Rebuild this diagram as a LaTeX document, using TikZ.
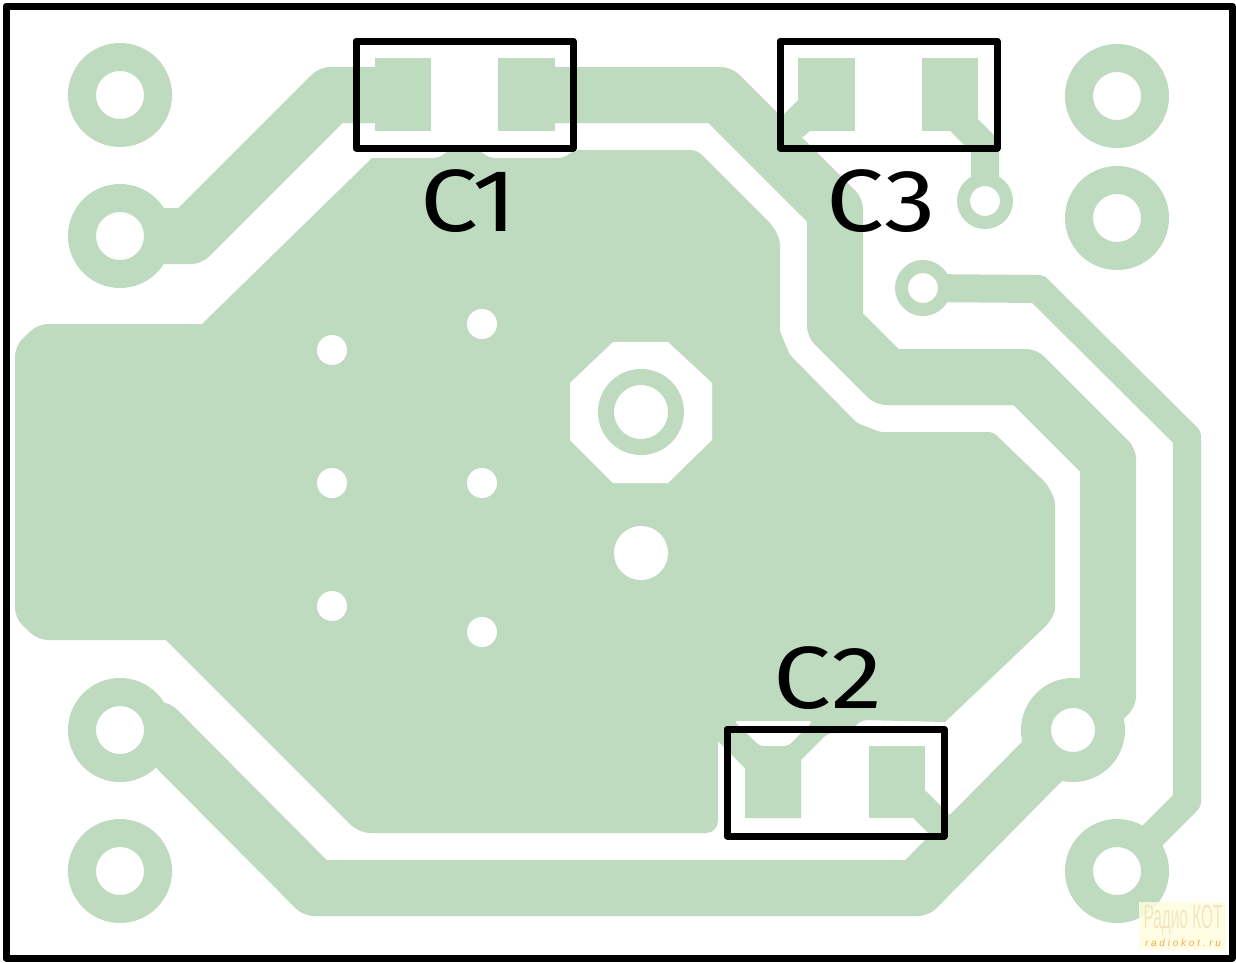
\documentclass[tikz,border=0pt]{standalone}
\usepackage{fontspec}
\setmainfont{Fira Sans}
\newfontfamily\wmfont{Liberation Sans}
\usepackage{xcolor}
\usetikzlibrary{backgrounds}
\definecolor{copper}{HTML}{BEDBBF}

\begin{document}
\begin{tikzpicture}[
    x=1pt, y=-1pt,
    padbig/.style={circle, draw=copper, fill=white, line width=28pt, minimum size=76pt, inner sep=0pt, outer sep=0pt},
    padsmall/.style={circle, draw=copper, fill=white, line width=13pt, minimum size=43pt, inner sep=0pt, outer sep=0pt},
    hole/.style={circle, fill=white, minimum size=30pt, inner sep=0pt, outer sep=0pt},
    smd/.style={fill=copper},
    wide/.style={draw=copper, line width=56pt, line join=round, line cap=round},
    thin/.style={draw=copper, line width=28pt, line join=round, line cap=round},
    outline/.style={draw=black, line width=7pt, line join=round},
    refdes/.style={font=\fontsize{92}{92}\selectfont, text=black, inner sep=0pt}
]
    \useasboundingbox (0,0) rectangle (1236,962);
    % Through-hole pads
    \node[padbig] (p1) at (120,95) {};
    \node[padbig] (p2) at (120,236) {};
    \node[padbig] (p3) at (120,730) {};
    \node[padbig] (p4) at (120,871) {};
    \node[padbig] (p5) at (1117,96) {};
    \node[padbig] (p6) at (1117,218) {};
    \node[padbig, minimum size=74pt, line width=30pt] (p7) at (1073,730) {};
    \node[padbig] (p8) at (1117,871) {};
    \node[padsmall] (p9) at (985,201) {};
    \node[padsmall] (p10) at (923,288) {};

    % Holes in the pour
    \node[hole] (h1) at (332,350) {};
    \node[hole] (h2) at (482,324) {};
    \node[hole] (h3) at (332,483) {};
    \node[hole] (h4) at (482,483) {};
    \node[hole] (h5) at (332,606) {};
    \node[hole] (h6) at (482,632) {};
    \node[hole, minimum size=54pt] (h7) at (641,553) {};
    \node[circle, draw=copper, fill=white, line width=16pt, minimum size=70pt, inner sep=0pt, outer sep=0pt] (ring) at (641,412) {};

    \begin{scope}[on background layer]
        \fill[white] (0,0) rectangle (1236,962);
        % Pour
        \fill[copper, rounded corners=10pt] (15,480) -- (15,346) -- (38,324)
            [sharp corners] -- (202,324) -- (372,158)
            [rounded corners=5pt] -- (438,158) -- (450,150) -- (478,150) -- (490,158) -- (563,158) -- (575,150)
            [rounded corners=6pt] -- (697,150) -- (773,226) -- (780,240)
            [rounded corners=3pt] -- (780,332) -- (790,355) -- (857,423) -- (880,432)
            [rounded corners=4pt] -- (993,432) -- (1047,484) -- (1055,500) -- (1055,612) -- (1048,624)
            [sharp corners] -- (945,722) [rounded corners=5pt] -- (862,720) -- (848,733) -- (828,733)
            [sharp corners] -- (801,760) -- (801,818) -- (745,818) -- (745,768) -- (718,741)
            [rounded corners=12pt] -- (718,833) -- (358,833)
            [sharp corners] -- (352,826) -- (166,640) [rounded corners=10pt] -- (38,640) -- (15,618) -- cycle;
        % Clearances
        \fill[white, rounded corners=4pt] (760,746) -- (788,746) -- (813,721) -- (734,721) -- cycle;
        \fill[white] (570,383) -- (613,342) -- (668,342) -- (712,383) -- (712,440) -- (668,483) -- (613,483) -- (570,440) -- cycle;

        % Tracks
        \draw[wide] (p2.center) -- (190,236) -- (331,95) -- (400,95);
        \draw[wide] (527,95) -- (720,95) -- (835,210) -- (835,325)
            -- (887,377) -- (1025,377) -- (1108,460) -- (1108,695) -- (p7.center);
        \draw[wide] (p3.center) -- (158,730) -- (315,888) -- (917,888) -- (p7.center);
        \draw[thin] (p10.center) -- (1038,289) -- (1187,437) -- (1187,801) -- (p8.center);
        \draw[thin] (950,111) -- (985,146) -- (p9.center);

        % SMD pads
        \fill[smd] (375,58) rectangle (431,131);
        \fill[smd] (498,58) rectangle (555,131);
        \fill[smd] (798,58) rectangle (855,131);
        \fill[smd] (922,58) rectangle (978,131);
        \fill[smd] (745,746) rectangle (801,818);
        \fill[smd] (869,746) rectangle (925,818);
        \fill[smd] (798,100) -- (770,128) -- (803,137) -- (810,131) -- (830,120) -- cycle;
        \draw[thin, line cap=butt] (900,785) -- (965,850);
    \end{scope}

    % Component outlines
    \draw[outline] (356,41) rectangle (573,148);
    \draw[outline] (780,41) rectangle (997,148);
    \draw[outline] (727,729) rectangle (944,836);
    \node[refdes] (c1) at (469,201) {\scalebox{1.12}[.96]{C1}};
    \node[refdes] (c3) at (881,201) {\scalebox{1.12}[.96]{C3}};
    \node[refdes] (c2) at (828,678) {\scalebox{1.12}[.96]{C2}};

    % Board edge
    \draw[outline] (6,6) rectangle (1232,958);

    % Watermark
    \node[fill=yellow!12, fill opacity=.85, text opacity=1, minimum width=87pt, minimum height=48pt, inner sep=0pt] (wm) at (1182,926) {};
    \node[text=yellow!35!brown!30, inner sep=0pt] (wmtop) at (1183,920) {\wmfont\fontsize{14}{14}\selectfont\scalebox{1.1}[2.4]{Радио КОТ}};
    \node[text=orange!70, inner sep=0pt] (wmbot) at (1183,943) {\wmfont\fontsize{10}{10}\selectfont\itshape r a d i o k o t . r u};
\end{tikzpicture}
\end{document}
